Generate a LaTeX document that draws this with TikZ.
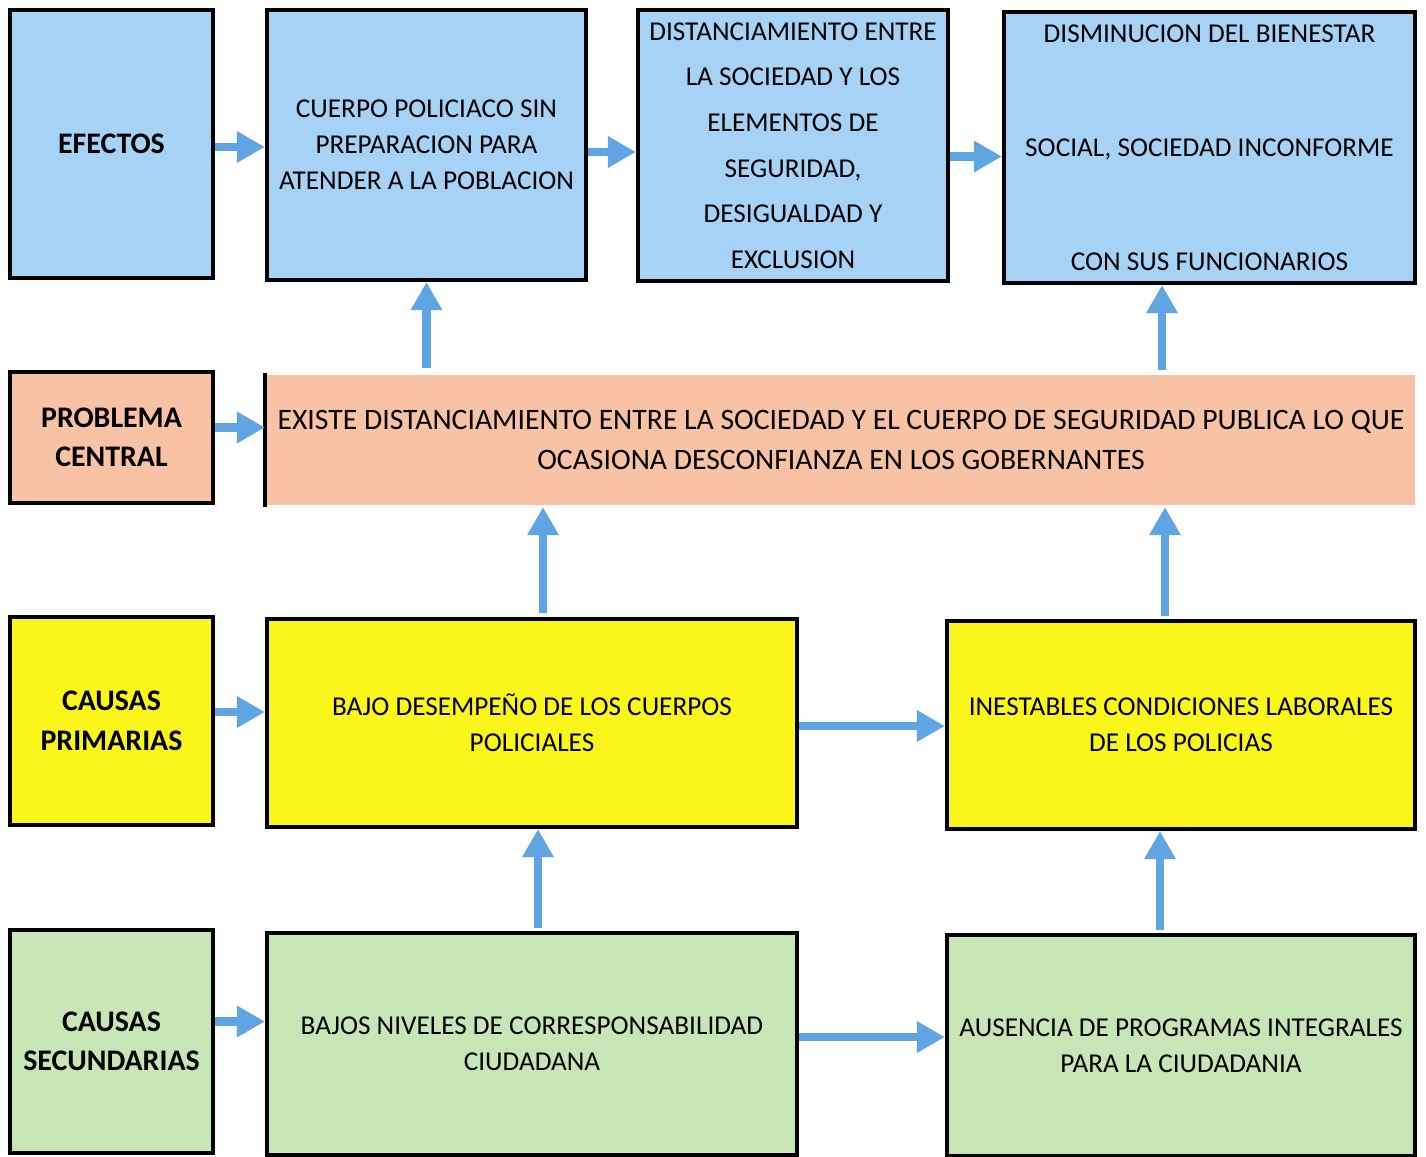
\documentclass[tikz,border=0pt]{standalone}
\usepackage{fontspec}
\setmainfont{Carlito}
\usepackage{tikz}
\usetikzlibrary{arrows.meta}
\usetikzlibrary{positioning}
\definecolor{efblue}{HTML}{A6D3F5}
\definecolor{prsalmon}{HTML}{F8C3A5}
\definecolor{cpyellow}{HTML}{FAF51A}
\definecolor{csgreen}{HTML}{C6E6B5}
\definecolor{arrowblue}{HTML}{5FA5E3}
\tikzstyle{cell}=[draw=black,line width=2.4pt,align=center,inner sep=0pt,text=black,font=\fontsize{15.5}{20.5}\selectfont]
\tikzstyle{rowlabel}=[cell,minimum width=4.06cm,font=\fontsize{17}{22.5}\selectfont\bfseries]
\tikzstyle{arrow}=[-{Triangle[width=17pt,length=16pt]},line width=5pt,draw=arrowblue]

\begin{document}
\begin{tikzpicture}[x=0.02cm,y=-0.02cm]
      \useasboundingbox (0,0) rectangle (1426,1156);
      % efectos
      \node[rowlabel,fill=efblue,minimum height=5.36cm] at (111.5,144) (efectos) {EFECTOS};
      \node[cell,fill=efblue,minimum width=6.38cm,minimum height=5.4cm] at (426.5,145) (cuerpo) {CUERPO POLICIACO SIN\\PREPARACION PARA\\ATENDER A LA POBLACION};
      \node[cell,fill=efblue,minimum width=6.2cm,minimum height=5.42cm,font=\fontsize{15.5}{26}\selectfont] at (793,145.5) (distancia) {DISTANCIAMIENTO ENTRE\\LA SOCIEDAD Y LOS\\ELEMENTOS DE\\SEGURIDAD,\\DESIGUALDAD Y\\EXCLUSION};
      \node[cell,fill=efblue,minimum width=8.22cm,minimum height=5.42cm,font=\fontsize{15.5}{65}\selectfont] at (1209.5,147.5) (bienestar) {DISMINUCION DEL BIENESTAR\\SOCIAL, SOCIEDAD INCONFORME\\CON SUS FUNCIONARIOS};
      % problema central
      \node[rowlabel,fill=prsalmon,minimum height=2.62cm] at (111.5,437.5) (problema) {PROBLEMA\\CENTRAL};
      \node[cell,draw=none,fill=prsalmon,minimum width=22.96cm,minimum height=2.6cm,font=\fontsize{16.9}{22.5}\selectfont] at (841,440) (central) {EXISTE DISTANCIAMIENTO ENTRE LA SOCIEDAD Y EL CUERPO DE SEGURIDAD PUBLICA LO QUE\\OCASIONA DESCONFIANZA EN LOS GOBERNANTES};
      \draw[line width=2.4pt] (central.north west)--(central.south west);
      % causas primarias
      \node[rowlabel,fill=cpyellow,minimum height=4.16cm] at (111.5,721) (primarias) {CAUSAS\\PRIMARIAS};
      \node[cell,fill=cpyellow,minimum width=10.6cm,minimum height=4.16cm] at (532,723) (desempeno) {BAJO DESEMPEÑO DE LOS CUERPOS\\POLICIALES};
      \node[cell,fill=cpyellow,minimum width=9.36cm,minimum height=4.16cm] at (1181,725) (laborales) {INESTABLES CONDICIONES LABORALES\\DE LOS POLICIAS};
      % causas secundarias
      \node[rowlabel,fill=csgreen,minimum height=4.46cm] at (111.5,1041.5) (secundarias) {CAUSAS\\SECUNDARIAS};
      \node[cell,fill=csgreen,minimum width=10.6cm,minimum height=4.44cm] at (532,1044) (corresp) {BAJOS NIVELES DE CORRESPONSABILIDAD\\CIUDADANA};
      \node[cell,fill=csgreen,minimum width=9.36cm,minimum height=4.42cm] at (1181,1045.5) (programas) {AUSENCIA DE PROGRAMAS INTEGRALES\\PARA LA CIUDADANIA};
      % flechas
      \draw[arrow] ([yshift=-0.06cm]efectos.east)--([yshift=-0.06cm]efectos.east -| cuerpo.west);
      \draw[arrow] ([yshift=-0.14cm]cuerpo.east)--([yshift=-0.14cm]cuerpo.east -| distancia.west);
      \draw[arrow] ([yshift=-0.22cm]distancia.east)--([yshift=-0.22cm]distancia.east -| bienestar.west);
      \draw[arrow] ([yshift=0.2cm]problema.east)--([yshift=0.2cm]problema.east -| central.west);
      \draw[arrow] ([yshift=0.1cm]central.north -| cuerpo)--(cuerpo.south);
      \draw[arrow] ([xshift=-0.95cm,yshift=0.06cm]bienestar.south |- central.north)--([xshift=-0.95cm]bienestar.south);
      \draw[arrow] ([yshift=0.18cm]primarias.east)--([yshift=0.18cm]primarias.east -| desempeno.west);
      \draw[arrow] ([xshift=0.22cm,yshift=0.08cm]desempeno.north)--([xshift=0.22cm]desempeno.north |- central.south);
      \draw[arrow] ([xshift=-0.32cm,yshift=0.06cm]laborales.north)--([xshift=-0.32cm]laborales.north |- central.south);
      \draw[arrow] ([yshift=-0.06cm]desempeno.east)--([yshift=-0.06cm]desempeno.east -| laborales.west);
      \draw[arrow] ([yshift=0.4cm]secundarias.east)--([yshift=0.4cm]secundarias.east -| corresp.west);
      \draw[arrow] ([xshift=0.12cm,yshift=0.06cm]corresp.north)--([xshift=0.12cm]desempeno.south);
      \draw[arrow] ([xshift=-0.42cm,yshift=0.06cm]programas.north)--([xshift=-0.42cm]programas.north |- laborales.south);
      \draw[arrow] ([yshift=0.14cm]corresp.east)--([yshift=0.14cm]corresp.east -| programas.west);
    \end{tikzpicture}
\end{document}
